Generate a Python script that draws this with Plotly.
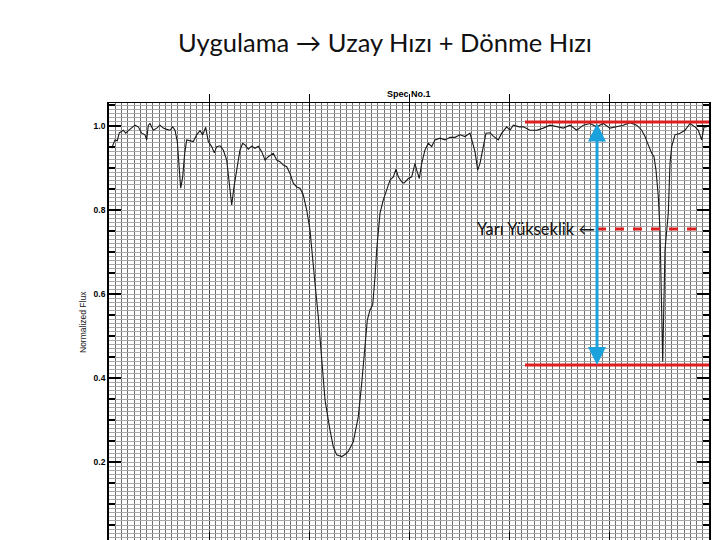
import numpy as np
import plotly.graph_objects as go

# ---- data ----
wavelength = [0.27, 0.43, 0.6, 0.83, 1.03, 1.43, 1.67, 1.93, 2.27, 2.6, 2.93, 3.27, 3.6, 3.77, 3.93, 4.1,
              4.43, 4.77, 5.1, 5.43, 5.77, 6.1, 6.37, 6.6, 6.83, 7.0, 7.17, 7.37, 7.57, 7.77, 8.17, 8.43,
              8.77, 9.1, 9.37, 9.67, 9.93, 10.27, 10.53, 10.77, 11.1, 11.43, 11.77, 12.0, 12.27, 12.5,
              12.77, 13.1, 13.37, 13.6, 13.93, 14.27, 14.6, 14.93, 15.27, 15.6, 15.93, 16.43, 16.77,
              17.1, 17.43, 17.77, 18.1, 18.43, 18.77, 19.1, 19.43, 19.77, 20.1, 20.33, 20.6, 20.93,
              21.27, 21.6, 22.1, 22.43, 22.77, 23.27, 23.6, 23.93, 24.43, 24.93, 25.27, 25.6, 25.83,
              26.1, 26.37, 26.6, 26.77, 27.1, 27.43, 27.77, 28.1, 28.43, 28.7, 28.93, 29.27, 29.5,
              29.93, 30.27, 30.6, 30.77, 31.03, 31.27, 31.6, 31.93, 32.27, 32.6, 33.1, 33.6, 34.1,
              34.6, 35.1, 35.6, 36.1, 36.37, 36.6, 36.87, 37.1, 37.43, 37.7, 38.1, 38.43, 38.93,
              39.27, 39.77, 40.1, 40.43, 41.03, 41.43, 42.1, 42.77, 43.43, 44.1, 44.77, 45.43, 46.1,
              46.77, 47.43, 48.1, 48.77, 49.43, 50.1, 50.77, 51.43, 52.1, 52.77, 53.27, 53.6, 53.93,
              54.27, 54.5, 54.7, 54.93, 55.1, 55.37, 55.6, 55.93, 56.1, 56.27, 56.6, 57.1, 57.6,
              58.1, 58.6, 58.93, 59.27, 59.5, 59.77]
flux = [0.947, 0.955, 0.967, 0.965, 0.984, 0.990, 0.983, 0.989, 0.995, 1.002, 0.998, 0.983, 0.979,
        0.967, 1.002, 1.006, 0.990, 0.995, 1.002, 0.995, 0.992, 0.990, 0.998, 0.990, 0.963, 0.911,
        0.852, 0.879, 0.935, 0.967, 0.965, 0.963, 0.979, 0.989, 0.979, 0.997, 0.963, 0.951, 0.936,
        0.951, 0.953, 0.943, 0.919, 0.871, 0.812, 0.855, 0.895, 0.943, 0.959, 0.955, 0.945, 0.952,
        0.947, 0.952, 0.939, 0.919, 0.927, 0.935, 0.919, 0.915, 0.907, 0.903, 0.887, 0.864, 0.855,
        0.852, 0.836, 0.800, 0.752, 0.689, 0.625, 0.546, 0.443, 0.348, 0.276, 0.236, 0.217, 0.213,
        0.218, 0.225, 0.248, 0.308, 0.387, 0.475, 0.538, 0.562, 0.574, 0.641, 0.705, 0.792, 0.824,
        0.848, 0.871, 0.879, 0.897, 0.879, 0.867, 0.864, 0.875, 0.879, 0.911, 0.895, 0.875, 0.911,
        0.943, 0.959, 0.951, 0.967, 0.971, 0.967, 0.973, 0.973, 0.979, 0.975, 0.983, 0.959, 0.939,
        0.895, 0.911, 0.951, 0.983, 0.984, 0.976, 0.967, 0.983, 0.998, 0.990, 1.002, 0.998, 0.998,
        0.990, 0.990, 0.995, 1.002, 0.998, 0.995, 1.002, 0.990, 1.002, 1.006, 0.998, 1.006, 0.995,
        0.998, 1.002, 1.008, 1.002, 0.990, 0.975, 0.955, 0.935, 0.927, 0.895, 0.832, 0.752, 0.439,
        0.705, 0.793, 0.911, 0.951, 0.979, 0.983, 0.990, 1.006, 0.998, 0.990, 0.967, 0.998, 0.998]

y_tick_values = [0.0, 0.2, 0.4, 0.6, 0.8, 1.0]
y_tick_labels = ["0.0", "0.2", "0.4", "0.6", "0.8", "1.0"]

continuum_level = 1.0095
line_min_level = 0.431
half_level = 0.755
marker_x_start = 41.6
marker_x_end = 60.0
dash_x_start = 48.8
dash_x_end = 59.6
arrow_x = 48.8

x_range = [0, 60]
y_range = [0.0143, 1.0548]

fig = go.Figure()
# empty trace registers the overlay axis used for the fine horizontal grid
fig.add_trace(go.Scatter(x=[], y=[], yaxis="y2", showlegend=False, hoverinfo="skip"))
fig.add_trace(go.Scatter(x=wavelength, y=flux, mode="lines",
                         line=dict(color="#1a1a1a", width=1.1), showlegend=False, yaxis="y"))

fig.update_layout(
    width=720, height=540,
    paper_bgcolor="white", plot_bgcolor="white",
    margin=dict(l=101, r=19, t=95, b=8, autoexpand=False),
    title=dict(text="Uygulama → Uzay Hızı + Dönme Hızı", x=0.5236, xanchor="center",
               y=0.935, yanchor="middle", font=dict(family="Lato", size=25.5, color="#111")),
    xaxis=dict(range=x_range, showline=True, mirror="allticks", linecolor="black", linewidth=1.2,
               dtick=10, tick0=0, ticks="inside", ticklen=8, tickcolor="black",
               showticklabels=False, zeroline=False, automargin=False,
               showgrid=True, gridcolor="#444", gridwidth=1,
               minor=dict(dtick=0.625, tick0=0, showgrid=True, gridcolor="#6f6f6f", gridwidth=1, ticks="")),
    yaxis=dict(range=y_range, showline=True, mirror="allticks", linecolor="black", linewidth=1.8,
               tickvals=y_tick_values, ticktext=y_tick_labels, ticks="inside", ticklen=12,
               tickcolor="black", tickwidth=1.5, zeroline=False, showgrid=False, automargin=False,
               tickfont=dict(family="Liberation Sans", size=8.5, color="black", weight="bold"),
               minor=dict(dtick=0.05, tick0=0, ticks="inside", ticklen=6, tickcolor="black",
                          showgrid=False)),
    yaxis2=dict(range=y_range, overlaying="y", anchor="x", side="left", dtick=0.01, tick0=0,
                showgrid=True, gridcolor="#a8a8a8", gridwidth=1, showticklabels=False, ticks="",
                zeroline=False, showline=False, automargin=False),
)

# marker lines
red = "#dd1f1f"
fig.add_shape(type="line", xref="x", yref="y", x0=marker_x_start, x1=marker_x_end,
              y0=continuum_level, y1=continuum_level, line=dict(color=red, width=3))
fig.add_shape(type="line", xref="x", yref="y", x0=marker_x_start, x1=marker_x_end,
              y0=line_min_level, y1=line_min_level, line=dict(color=red, width=3))
fig.add_shape(type="line", xref="x", yref="y", x0=dash_x_start, x1=dash_x_end,
              y0=half_level, y1=half_level, line=dict(color=red, width=3, dash="dash"))

fig.add_annotation(x=arrow_x, y=line_min_level, ax=arrow_x, ay=continuum_level,
                   xref="x", yref="y", axref="x", ayref="y", text="", showarrow=True,
                   arrowhead=2, arrowside="end+start", arrowsize=1.2, arrowwidth=3,
                   arrowcolor="#1ba1dc", standoff=0, startstandoff=0)

fig.add_annotation(x=arrow_x, y=half_level, xref="x", yref="y", text="Yarı Yükseklik ←",
                   showarrow=False, xanchor="right", yanchor="middle",
                   font=dict(family="Lato", size=16.5, color="#111"))

fig.add_annotation(x=0.5, y=1.0206, xref="paper", yref="paper", text="Spec No.1",
                   showarrow=False, xanchor="center", yanchor="middle",
                   font=dict(family="Liberation Sans", size=9, color="black", weight="bold"))
fig.add_annotation(x=-0.0433, y=0.4989, xref="paper", yref="paper", text="Normalized Flux",
                   showarrow=False, textangle=-90, xanchor="center", yanchor="middle",
                   font=dict(family="Liberation Sans", size=8.5, color="#222"))

fig.write_html("out.html")
